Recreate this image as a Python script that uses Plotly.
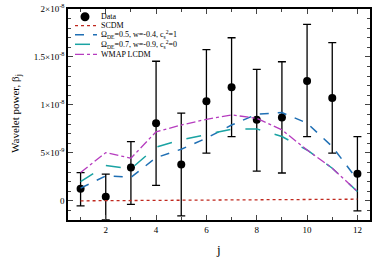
import plotly.graph_objects as go

j = list(range(1, 13))
beta = [1.25e-9, 0.42e-9, 3.47e-9, 8.09e-9, 3.78e-9, 10.39e-9, 11.84e-9, 8.44e-9, 8.68e-9, 12.5e-9, 10.73e-9, 2.81e-9]
beta_hi = [2.95e-9, 2.78e-9, 6.18e-9, 14.55e-9, 9.14e-9, 15.76e-9, 17.0e-9, 13.7e-9, 14.5e-9, 18.4e-9, 16.5e-9, 6.7e-9]
beta_lo = [-0.52e-9, -2.0e-9, -0.38e-9, 1.6e-9, -1.56e-9, 4.97e-9, 6.7e-9, 3.1e-9, 2.9e-9, 6.7e-9, 4.97e-9, -1.04e-9]

scdm = [0.0, 0.02e-9, 0.04e-9, 0.06e-9, 0.08e-9, 0.1e-9, 0.12e-9, 0.14e-9, 0.15e-9, 0.16e-9, 0.17e-9, 0.17e-9]
de05 = [1.32e-9, 2.6e-9, 2.45e-9, 4.5e-9, 5.38e-9, 6.53e-9, 7.9e-9, 9.03e-9, 9.2e-9, 8.1e-9, 5.66e-9, 2.2e-9]
de07 = [2.0e-9, 3.68e-9, 3.33e-9, 5.6e-9, 6.35e-9, 6.9e-9, 7.47e-9, 7.5e-9, 6.7e-9, 5.3e-9, 3.4e-9, 0.97e-9]
wmap = [2.95e-9, 5.03e-9, 4.44e-9, 7.2e-9, 7.9e-9, 8.5e-9, 8.96e-9, 8.6e-9, 7.4e-9, 5.3e-9, 3.4e-9, 0.97e-9]

ytick_vals = [0, 5e-9, 1e-8, 1.5e-8, 2e-8]
ytick_text = ["0", "5×10<sup>-9</sup>", "1×10<sup>-8</sup>", "1.5×10<sup>-8</sup>", "2×10<sup>-8</sup>"]
xtick_vals = [2, 4, 6, 8, 10, 12]

legend_names = ["Data", "SCDM",
                "Ω<sub>DE</sub>=0.5, w=-0.4, c<sub>s</sub><sup>2</sup>=1",
                "Ω<sub>DE</sub>=0.7, w=-0.9, c<sub>s</sub><sup>2</sup>=0",
                "WMAP LCDM"]

err_plus = [h - b for h, b in zip(beta_hi, beta)]
err_minus = [b - l for b, l in zip(beta, beta_lo)]

FONT = "Liberation Serif"
W, H = 374, 265
# plot area in window pixels: x 68..370, y 9..220
ML, MT = 68, 9
MR = W - 370
MB = H - 220
PW, PH = W - ML - MR, H - MT - MB


def px(x):  # window pixel -> paper
    return (x - ML) / PW


def py(y):
    return (H - MB - y) / PH


styles = [
    None,
    dict(color="#c0281e", dash="dot", width=1.3),
    dict(color="#1f6fb4", dash="dash", width=1.5),
    dict(color="#1aa3a3", dash="longdash", width=1.5),
    dict(color="#b63cbf", dash="dashdot", width=1.3),
]

fig = go.Figure()
fig.add_trace(go.Scatter(
    x=j, y=beta, mode="markers", name=legend_names[0],
    marker=dict(color="black", size=8),
    error_y=dict(type="data", array=err_plus, arrayminus=err_minus,
                 color="black", thickness=1.3, width=4),
))
for name, ys, st in zip(legend_names[1:], [scdm, de05, de07, wmap], styles[1:]):
    fig.add_trace(go.Scatter(x=j, y=ys, mode="lines", name=name, line=st))

# compact legend drawn in the top-left corner
rows = [16.7, 25.7, 34.7, 44.3, 54.3]
shapes = []
annotations = []
for k, (name, yr) in enumerate(zip(legend_names, rows)):
    if k == 0:
        shapes.append(dict(type="circle", xref="paper", yref="paper",
                           x0=px(80.5), x1=px(89.5), y0=py(yr + 4.5), y1=py(yr - 4.5),
                           fillcolor="black", line=dict(color="black", width=0)))
    else:
        shapes.append(dict(type="line", xref="paper", yref="paper",
                           x0=px(75), x1=px(97), y0=py(yr), y1=py(yr),
                           line=styles[k]))
    annotations.append(dict(text=name, xref="paper", yref="paper",
                            x=px(99), y=py(yr), xanchor="left", yanchor="middle",
                            showarrow=False, font=dict(size=8, family=FONT, color="black")))

annotations.append(dict(text="Wavelet power, β<sub>j</sub>", xref="paper", yref="paper",
                        x=px(16), y=py(114), textangle=-90, showarrow=False,
                        xanchor="center", yanchor="middle",
                        font=dict(size=11, family=FONT, color="black")))
annotations.append(dict(text="j", xref="paper", yref="paper",
                        x=px(218), y=py(250), showarrow=False,
                        xanchor="center", yanchor="middle",
                        font=dict(size=13, family=FONT, color="black")))

fig.update_layout(
    width=W, height=H,
    margin=dict(l=ML, r=MR, t=MT, b=MB),
    paper_bgcolor="white", plot_bgcolor="white",
    font=dict(family=FONT, size=9, color="black"),
    showlegend=False,
    shapes=shapes, annotations=annotations,
)
fig.update_xaxes(
    range=[0.5, 12.5], tickvals=xtick_vals, ticks="inside", ticklen=5,
    minor=dict(dtick=1, tick0=0, ticks="inside", ticklen=3),
    showline=True, linecolor="black", linewidth=1.5, mirror="ticks",
    showgrid=False, zeroline=False, automargin=False,
    tickfont=dict(size=9, family=FONT),
)
fig.update_yaxes(
    range=[-2e-9, 2e-8], tickvals=ytick_vals, ticktext=ytick_text,
    ticks="inside", ticklen=5,
    minor=dict(dtick=1e-9, tick0=0, ticks="inside", ticklen=3),
    showline=True, linecolor="black", linewidth=1.5, mirror="ticks",
    showgrid=False, zeroline=False, automargin=False,
    tickfont=dict(size=9, family=FONT), ticklabeloverflow="allow",
)

fig.write_html("out.html", config={"displayModeBar": False},
               post_script="document.body.style.margin='0';document.body.style.overflow='hidden';")
